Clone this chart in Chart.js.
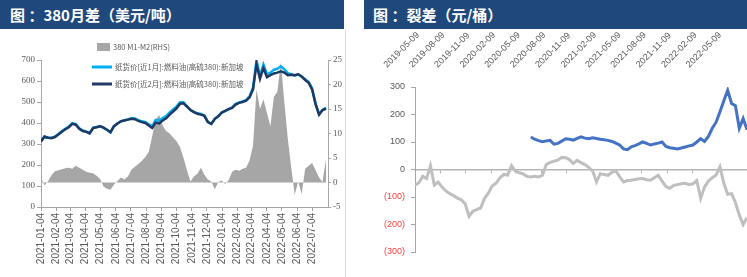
<!DOCTYPE html>
<html>
<head>
<meta charset="utf-8">
<script src="https://cdn.jsdelivr.net/npm/chart.js@4.4.0/dist/chart.umd.min.js"></script>
<style>
  body { margin: 0; width: 747px; height: 277px; background: #fff; position: relative; overflow: hidden; }
  .bar { position: absolute; top: 0; height: 29px; background: #1F487C; color: #fff;
         font-family: "Noto Sans CJK SC", sans-serif; font-weight: bold; font-size: 15px;
         line-height: 29px; box-sizing: border-box; white-space: nowrap; }
  #leftBar { left: 0; width: 344px; padding-left: 10px; }
  #rightBar { left: 364px; width: 383px; padding-left: 9px; }
  #divider { position: absolute; left: 345px; top: 30px; width: 1px; height: 247px; background: #D9D9D9; }
  #leftWrap { position: absolute; left: 0; top: 30px; width: 345px; height: 247px; }
  #rightWrap { position: absolute; left: 364px; top: 30px; width: 383px; height: 247px; }
</style>
</head>
<body>
<div class="bar" id="leftBar">图 ：380月差（美元/吨）</div>
<div class="bar" id="rightBar">图 ：裂差（元/桶）</div>
<div id="divider"></div>
<div id="leftWrap"><canvas id="left-chart" width="345" height="247"></canvas></div>
<div id="rightWrap"><canvas id="right-chart" width="383" height="247"></canvas></div>
<script>
// ---- left chart: 380 month spread, weekly readings from 2021-01-04 ----
const leftStart = '2021-01-04';
const leftStepDays = 7;
const leftEndDay = 578;
const leftTickDates = ['2021-01-04', '2021-02-04', '2021-03-04', '2021-04-04', '2021-05-04', '2021-06-04',
  '2021-07-04', '2021-08-04', '2021-09-04', '2021-10-04', '2021-11-04', '2021-12-04', '2022-01-04',
  '2022-02-04', '2022-03-04', '2022-04-04', '2022-05-04', '2022-06-04', '2022-07-04'];
const leftNames = ['380 M1-M2(RHS)', '纸货价[近1月]:燃料油(高硫380):新加坡', '纸货价[近2月]:燃料油(高硫380):新加坡'];

const spreadM1M2 = [1.0, -0.6, 0.2, 1.5, 2.3, 2.5, 2.7, 2.9, 3.0, 2.8,
  3.4, 3.0, 2.6, 2.2, 2.0, 1.9, 1.4, 0.7, -0.8, -1.3,
  -1.5, -0.4, 0.3, 1.0, 0.6, 1.2, 2.6, 3.2, 3.8, 4.4,
  5.2, 6.2, 9.5, 12.8, 13.8, 11.6, 10.5, 10.0, 9.2, 8.4,
  7.2, 5.0, 2.5, 0.2, 1.2, 1.8, 3.0, 1.6, 0.6, 0.2,
  -1.4, 0.1, 0.4, -0.3, 0.5, 2.2, 2.6, 2.4, 2.8, 3.0,
  4.5, 7.5, 19.0, 15.0, 17.0, 14.2, 11.5, 17.5, 18.5, 24.5,
  16.5, 9.0, 3.0, -2.5, 0.2, -2.4, 2.8, 3.4, 4.0, 2.5,
  1.0, 0.1, 4.8];

const swapMonth1 = [313, 335, 330, 330, 335, 348, 361, 373, 383, 399,
  395, 375, 365, 360, 352, 378, 381, 385, 377, 367,
  355, 385, 398, 409, 413, 417, 423, 421, 414, 408,
  405, 394, 385, 415, 412, 424, 433, 450, 464, 478,
  499, 499, 480, 462, 453, 446, 443, 436, 405, 396,
  419, 432, 450, 458, 466, 474, 491, 498, 503, 509,
  527, 568, 698, 625, 679, 632, 640, 654, 658, 670,
  656, 637, 633, 626, 632, 620, 608, 595, 564, 492,
  441, 462, 473];

const swapMonth2 = [312, 336, 330, 328, 333, 345, 358, 370, 380, 396,
  392, 372, 362, 358, 350, 376, 380, 384, 378, 368,
  356, 385, 398, 408, 412, 416, 420, 418, 410, 404,
  400, 388, 376, 402, 398, 412, 422, 440, 455, 470,
  492, 494, 478, 462, 452, 444, 440, 434, 404, 396,
  420, 432, 450, 458, 466, 472, 488, 496, 500, 506,
  522, 560, 680, 610, 662, 618, 628, 636, 640, 646,
  640, 628, 630, 628, 632, 622, 605, 592, 560, 490,
  440, 462, 468];

// ---- right chart: crack spreads, readings every 14 days ----
const rightStart = '2019-05-09';
const rightStepDays = 14;
const rightEndDay = 1204;
const rightTickDates = ['2019-05-09', '2019-08-09', '2019-11-09', '2020-02-09', '2020-05-09', '2020-08-09',
  '2020-11-09', '2021-02-09', '2021-05-09', '2021-08-09', '2021-11-09', '2022-02-09', '2022-05-09'];

const crackGray = [-57, -48, -25, -33, 14, -57, -46, -64, -78, -88,
  -95, -104, -110, -125, -170, -152, -146, -140, -105, -86,
  -60, -50, -30, -18, -20, 14, -6, -12, -16, -25,
  -27, -25, -27, -21, 18, 26, 30, 34, 44, 43,
  36, 22, 33, 25, 18, 8, -5, -45, -15, -18,
  -21, -10, -4, -26, -45, -40, -39, -36, -34, -33,
  -37, -39, -30, -21, -42, -62, -68, -58, -55, -52,
  -50, -55, -52, -40, -105, -63, -42, -30, -20, 10,
  -50, -90, -88, -120, -165, -200, -175];

const crackBlueStart = '2020-07-02';
const crackBlue = [118, 110, 105, 101, 104, 106, 92, 95, 103, 112,
  110, 107, 113, 119, 114, 112, 115, 113, 110, 108,
  106, 102, 96, 89, 75, 72, 82, 87, 93, 100,
  95, 89, 93, 96, 100, 84, 79, 77, 75, 78,
  82, 86, 89, 100, 112, 102, 120, 150, 172, 210,
  250, 288, 240, 232, 150, 185, 145];

const DAY = 86400000;
const dayOf = (s, base) => Math.round((Date.parse(s) - Date.parse(base)) / DAY);
const dateAt = (base, d) => new Date(Date.parse(base) + d * DAY).toISOString().slice(0, 10);
const toPoints = (vals, offset, step) => vals.map((v, i) => ({ x: offset + i * step, y: v }));

const axisGray = '#A6A6A6';
const labelGray = '#595959';

// legend is painted under the lines, like the source picture
const leftLegend = {
  id: 'leftLegend',
  beforeDatasetsDraw(chart) {
    const ctx = chart.ctx;
    ctx.save();
    ctx.font = '7.5px "Noto Sans CJK SC"';
    ctx.textBaseline = 'middle';
    ctx.fillStyle = '#A6A6A6';
    ctx.fillRect(97, 13, 13, 8);
    ctx.lineWidth = 3;
    ctx.strokeStyle = '#00B0F0';
    ctx.beginPath(); ctx.moveTo(92, 37); ctx.lineTo(112, 37); ctx.stroke();
    ctx.strokeStyle = '#1F3864';
    ctx.beginPath(); ctx.moveTo(92, 54); ctx.lineTo(112, 54); ctx.stroke();
    ctx.fillStyle = labelGray;
    ctx.fillText(leftNames[0], 113, 17);
    ctx.fillText(leftNames[1], 115, 37);
    ctx.fillText(leftNames[2], 115, 54);
    ctx.restore();
  }
};

new Chart(document.getElementById('left-chart'), {
  type: 'line',
  data: {
    datasets: [
      {
        label: leftNames[2],
        data: toPoints(swapMonth2, 0, leftStepDays),
        yAxisID: 'y',
        borderColor: '#1F3864',
        borderWidth: 2.5,
        pointRadius: 0,
        fill: false,
        order: 1,
      },
      {
        label: leftNames[1],
        data: toPoints(swapMonth1, 0, leftStepDays),
        yAxisID: 'y',
        borderColor: '#00B0F0',
        borderWidth: 2.5,
        pointRadius: 0,
        fill: false,
        order: 2,
      },
      {
        label: leftNames[0],
        data: toPoints(spreadM1M2, 0, leftStepDays),
        yAxisID: 'y1',
        borderWidth: 0,
        borderColor: 'rgba(0,0,0,0)',
        backgroundColor: '#A6A6A6',
        pointRadius: 0,
        fill: 'origin',
        order: 3,
      },
    ],
  },
  options: {
    responsive: false,
    animation: false,
    devicePixelRatio: 1,
    layout: { padding: { top: 30, left: 0, right: 0, bottom: 0 } },
    plugins: { legend: { display: false }, tooltip: { enabled: false } },
    scales: {
      x: {
        type: 'linear',
        min: 0,
        max: leftEndDay,
        afterBuildTicks: axis => { axis.ticks = leftTickDates.map(s => ({ value: dayOf(s, leftStart) })); },
        afterFit: axis => { axis.height = 70; axis.paddingLeft = 0; axis.paddingRight = 0; },
        ticks: {
          autoSkip: false,
          minRotation: 90,
          maxRotation: 90,
          padding: 2,
          color: labelGray,
          font: { family: 'Liberation Sans', size: 10 },
          callback: v => dateAt(leftStart, v),
        },
        grid: { drawOnChartArea: false, tickLength: 4, color: axisGray },
        border: { color: axisGray },
      },
      y: {
        position: 'left',
        min: 0,
        max: 700,
        afterFit: axis => { axis.width = 41; },
        ticks: { stepSize: 100, padding: 2, color: labelGray, font: { family: 'Liberation Sans Narrow', size: 9 } },
        grid: { drawOnChartArea: false, tickLength: 4, color: axisGray },
        border: { color: axisGray },
      },
      y1: {
        position: 'right',
        min: -5,
        max: 25,
        afterFit: axis => { axis.width = 17; },
        ticks: { stepSize: 5, padding: 2, color: labelGray, font: { family: 'Liberation Sans Narrow', size: 9 } },
        grid: { drawOnChartArea: false, tickLength: 3, color: axisGray },
        border: { color: axisGray },
      },
    },
  },
  plugins: [leftLegend],
});

const blueOffset = dayOf(crackBlueStart, rightStart);

new Chart(document.getElementById('right-chart'), {
  type: 'line',
  data: {
    datasets: [
      {
        label: '裂差1',
        data: toPoints(crackBlue, blueOffset, rightStepDays),
        borderColor: '#4472C4',
        borderWidth: 3,
        pointRadius: 0,
        fill: false,
      },
      {
        label: '裂差2',
        data: toPoints(crackGray, 0, rightStepDays),
        borderColor: '#BFBFBF',
        borderWidth: 3,
        pointRadius: 0,
        fill: false,
      },
    ],
  },
  options: {
    responsive: false,
    animation: false,
    devicePixelRatio: 1,
    layout: { padding: { top: 0, left: 0, right: 0, bottom: 25 } },
    plugins: { legend: { display: false }, tooltip: { enabled: false } },
    scales: {
      x: {
        type: 'linear',
        position: { y: 0 },
        min: 0,
        max: rightEndDay,
        afterBuildTicks: axis => { axis.ticks = rightTickDates.map(s => ({ value: dayOf(s, rightStart) })); },
        ticks: { display: false },
        grid: { drawOnChartArea: false, tickLength: 3, color: '#B4B4B4' },
        border: { color: '#B4B4B4', width: 1.5 },
      },
      x2: {
        type: 'linear',
        position: 'top',
        min: 0,
        max: rightEndDay,
        afterBuildTicks: axis => { axis.ticks = rightTickDates.map(s => ({ value: dayOf(s, rightStart) })); },
        afterFit: axis => { axis.height = 57; axis.paddingLeft = 0; axis.paddingRight = 0; },
        ticks: {
          autoSkip: false,
          minRotation: 45,
          maxRotation: 45,
          labelOffset: -22,
          padding: 9,
          color: labelGray,
          font: { family: 'Liberation Sans', size: 9 },
          callback: v => dateAt(rightStart, v),
        },
        grid: { display: false },
        border: { display: false },
      },
      y: {
        min: -300,
        max: 300,
        afterFit: axis => { axis.width = 51; },
        ticks: {
          stepSize: 100,
          padding: 6,
          font: { family: 'Liberation Sans', size: 9 },
          color: c => (c.tick.value < 0 ? '#FF3B3B' : labelGray),
          callback: v => (v < 0 ? '(' + (-v) + ')' : String(v)),
        },
        grid: { drawOnChartArea: false, tickLength: 4, color: axisGray },
        border: { color: axisGray },
      },
    },
  },
});
</script>
</body>
</html>
